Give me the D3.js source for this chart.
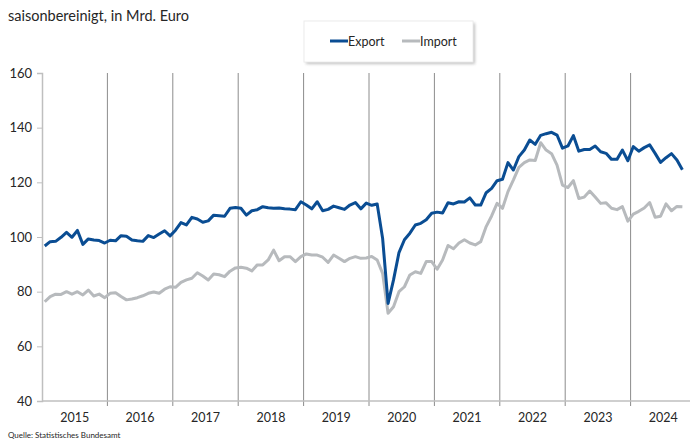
<!DOCTYPE html>
<html lang="de">
<head>
  <meta charset="utf-8">
  <title>Export und Import, saisonbereinigt</title>
  <script src="https://d3js.org/d3.v7.min.js"></script>
  <style>
    body { margin: 0; background: #fff; }
    svg { display: block; font-family: Lato, "Open Sans", sans-serif; }
  </style>
</head>
<body>
  <svg id="chart" width="690" height="442"></svg>
  <script>
    // Monatswerte Jan 2015 bis Okt 2024, in Mrd. Euro
    const exportWerte = [
      96.7, 98.3, 98.4, 99.9, 101.7, 99.9, 102.4, 97.3, 99.3, 98.9, 98.7, 97.8,
      98.8, 98.6, 100.5, 100.3, 98.9, 98.6, 98.4, 100.5, 99.8, 101.1, 102.3, 100.4,
      102.5, 105.3, 104.4, 107.2, 106.6, 105.4, 105.9, 108.0, 107.8, 107.6, 110.5, 110.8,
      110.5, 108.0, 109.6, 110.0, 111.1, 110.7, 110.5, 110.6, 110.3, 110.2, 110.0, 112.9,
      111.7, 110.3, 112.9, 109.6, 110.1, 111.3, 110.7, 110.1, 111.7, 112.6, 110.3, 112.4,
      111.6, 112.1, 99.5, 75.7, 84.3, 94.3, 99.0, 101.4, 104.4, 105.0, 106.3, 108.7,
      109.1, 108.8, 112.5, 112.1, 112.9, 112.8, 114.3, 111.7, 111.7, 116.2, 117.8, 120.6,
      121.1, 127.2, 124.5, 129.4, 131.8, 135.5, 133.9, 137.2, 137.8, 138.3, 137.3, 132.5,
      133.3, 137.1, 131.4, 132.0, 132.0, 133.3, 131.2, 130.6, 128.4, 128.4, 131.8, 127.9,
      133.1, 131.4, 132.7, 133.7, 130.6, 127.3, 129.0, 130.5, 128.2, 124.6
    ];
    const importWerte = [
      76.3, 78.2, 79.1, 79.0, 80.0, 79.1, 80.0, 78.8, 80.6, 78.4, 79.1, 77.8,
      79.4, 79.6, 78.2, 77.0, 77.3, 77.8, 78.5, 79.4, 79.9, 79.4, 80.9, 81.8,
      81.6, 83.4, 84.3, 84.9, 86.9, 85.7, 84.3, 86.5, 86.2, 85.5, 87.5, 88.7,
      88.9, 88.6, 87.6, 89.8, 89.8, 91.6, 95.2, 91.3, 92.8, 92.8, 91.0, 92.8,
      93.8, 93.4, 93.4, 92.6, 90.7, 93.4, 92.2, 91.0, 92.2, 92.8, 92.2, 92.3,
      92.9, 91.6, 86.7, 72.1, 74.5, 80.0, 81.8, 86.1, 87.3, 86.7, 91.0, 91.0,
      88.2, 91.6, 96.9, 95.7, 97.8, 99.0, 97.8, 97.1, 98.3, 103.8, 107.7, 112.3,
      110.5, 116.6, 120.9, 125.5, 127.2, 128.2, 128.0, 134.5, 131.8, 130.5, 126.3, 119.0,
      118.1, 120.6, 114.1, 114.6, 116.8, 114.6, 112.3, 112.5, 110.5, 110.0, 111.1, 105.8,
      108.4, 109.4, 110.6, 112.6, 107.2, 107.6, 112.1, 109.6, 111.2, 111.1
    ];
    const jahre = ["2015", "2016", "2017", "2018", "2019", "2020", "2021", "2022", "2023", "2024"];
    const yTicks = [40, 60, 80, 100, 120, 140, 160];

    const svg = d3.select("#chart");
    const plotLeft = 42, plotRight = 696, plotTop = 73, plotBottom = 401;

    const x = d3.scaleLinear().domain([0, jahre.length * 12]).range([plotLeft, plotRight]);
    const y = d3.scaleLinear().domain([40, 160]).range([plotBottom, plotTop]);

    // weicher Schatten fuer die Legende
    const filter = svg.append("defs").append("filter")
      .attr("id", "schatten")
      .attr("x", "-10%").attr("y", "-20%").attr("width", "130%").attr("height", "160%");
    filter.append("feGaussianBlur").attr("stdDeviation", 1.5);

    // Titel
    svg.append("text")
      .attr("x", 8).attr("y", 21)
      .attr("font-size", 14.5).attr("fill", "#262626")
      .text("saisonbereinigt, in Mrd. Euro");

    // senkrechte Jahreslinien
    svg.append("g")
      .selectAll("line")
      .data(d3.range(1, jahre.length))
      .join("line")
      .attr("x1", d => x(d * 12)).attr("x2", d => x(d * 12))
      .attr("y1", plotTop).attr("y2", plotBottom + 5)
      .attr("stroke", "#8c8c8c").attr("stroke-width", 1);

    // y-Achse
    const yAxis = svg.append("g")
      .attr("transform", `translate(${plotLeft},0)`)
      .call(d3.axisLeft(y).tickValues(yTicks).tickSize(5).tickPadding(5));
    yAxis.select(".domain").attr("stroke", "#bfbfbf").attr("stroke-width", 1.5);
    yAxis.selectAll(".tick line").attr("stroke", "#bfbfbf");
    yAxis.selectAll("text").attr("font-size", 13).attr("fill", "#262626")
      .attr("font-family", "Lato, sans-serif");

    // x-Achse
    svg.append("line")
      .attr("x1", plotLeft).attr("x2", plotRight)
      .attr("y1", plotBottom).attr("y2", plotBottom)
      .attr("stroke", "#bfbfbf").attr("stroke-width", 1.5);
    svg.append("g")
      .selectAll("text")
      .data(jahre)
      .join("text")
      .attr("x", (d, i) => x(i * 12 + 6))
      .attr("y", 422)
      .attr("text-anchor", "middle")
      .attr("font-size", 12.5).attr("fill", "#262626")
      .text(d => d);

    // Linien
    const line = d3.line()
      .x((d, i) => x(i + 0.5))
      .y(d => y(d));

    svg.append("path")
      .attr("d", line(importWerte))
      .attr("fill", "none")
      .attr("stroke", "#b7babd")
      .attr("stroke-width", 3)
      .attr("stroke-linejoin", "round");

    svg.append("path")
      .attr("d", line(exportWerte))
      .attr("fill", "none")
      .attr("stroke", "#0a4d93")
      .attr("stroke-width", 3)
      .attr("stroke-linejoin", "round");

    // Legende
    const legende = svg.append("g");
    legende.append("rect")
      .attr("x", 306).attr("y", 23).attr("width", 169).attr("height", 41)
      .attr("fill", "#9a9a9a").attr("opacity", 0.6)
      .attr("filter", "url(#schatten)");
    legende.append("rect")
      .attr("x", 304).attr("y", 21).attr("width", 169).attr("height", 41)
      .attr("fill", "#fff").attr("stroke", "#ececec");

    const eintraege = [
      { name: "Export", farbe: "#0a4d93", x: 330 },
      { name: "Import", farbe: "#b7babd", x: 402 }
    ];
    eintraege.forEach(e => {
      legende.append("line")
        .attr("x1", e.x).attr("x2", e.x + 18)
        .attr("y1", 41).attr("y2", 41)
        .attr("stroke", e.farbe).attr("stroke-width", 3);
      legende.append("text")
        .attr("x", e.x + 18).attr("y", 45.5)
        .attr("font-size", 12.5).attr("fill", "#262626")
        .text(e.name);
    });

    // Quelle
    svg.append("text")
      .attr("x", 8).attr("y", 438)
      .attr("font-size", 8).attr("fill", "#262626")
      .text("Quelle: Statistisches Bundesamt");
  </script>
</body>
</html>
